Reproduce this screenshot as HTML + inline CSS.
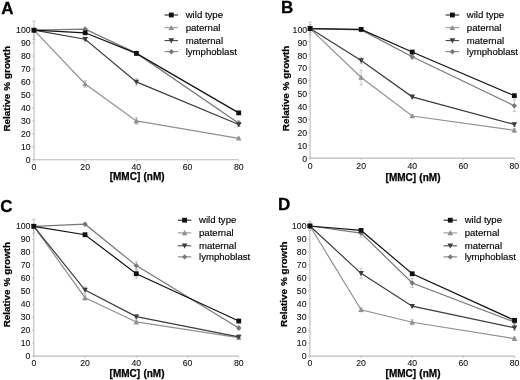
<!DOCTYPE html>
<html><head><meta charset="utf-8"><style>
html,body{margin:0;padding:0;background:#fff;width:520px;height:380px;overflow:hidden;-webkit-font-smoothing:antialiased}
svg{display:block;will-change:transform}
text{font-family:"Liberation Sans", sans-serif}
.L{font-size:17px;font-weight:bold;fill:#000;stroke:#000;stroke-width:0.3px}
.t{font-size:8.7px;fill:#111;stroke:#111;stroke-width:0.1px}
.ti{font-size:10px;font-weight:bold;fill:#000;stroke:#000;stroke-width:0.25px;word-spacing:0.5px}
.yt{font-size:9.9px;word-spacing:0.2px}
.lg{font-size:9.6px;fill:#000;stroke:#000;stroke-width:0.15px}
.ll{stroke-width:1;fill:none}
.ax{fill:none;stroke:#bbb;stroke-width:1.1}
.tk{fill:none;stroke:#bbb;stroke-width:0.8}
.eb{fill:none;stroke:#b4b4b4;stroke-width:0.8}
.ln{stroke-width:1.2;fill:none}
</style></head><body>
<svg width="520" height="380" viewBox="0 0 520 380">
<rect width="520" height="380" fill="#fff"/>
<g><text x="1.2" y="13.8" class="L">A</text>
<path d="M34 30.2V159.8H238.72" class="ax"/>
<text x="30.6" y="162.8" class="t" text-anchor="end">0</text>
<text x="30.6" y="149.84" class="t" text-anchor="end">10</text>
<text x="30.6" y="136.88" class="t" text-anchor="end">20</text>
<text x="30.6" y="123.92" class="t" text-anchor="end">30</text>
<text x="30.6" y="110.96" class="t" text-anchor="end">40</text>
<text x="30.6" y="98" class="t" text-anchor="end">50</text>
<text x="30.6" y="85.04" class="t" text-anchor="end">60</text>
<text x="30.6" y="72.08" class="t" text-anchor="end">70</text>
<text x="30.6" y="59.12" class="t" text-anchor="end">80</text>
<text x="30.6" y="46.16" class="t" text-anchor="end">90</text>
<text x="30.6" y="33.2" class="t" text-anchor="end">100</text>
<text x="34" y="170" class="t" text-anchor="middle">0</text>
<text x="85.18" y="170" class="t" text-anchor="middle">20</text>
<text x="136.36" y="170" class="t" text-anchor="middle">40</text>
<text x="187.54" y="170" class="t" text-anchor="middle">60</text>
<text x="238.72" y="170" class="t" text-anchor="middle">80</text>
<path d="M32 159.8H34M32 146.84H34M32 133.88H34M32 120.92H34M32 107.96H34M32 95H34M32 82.04H34M32 69.08H34M32 56.12H34M32 43.16H34M32 30.2H34M34 159.8V161.8M85.18 159.8V161.8M136.36 159.8V161.8M187.54 159.8V161.8M238.72 159.8V161.8" class="tk"/>
<text x="137.16" y="180.3" class="ti" text-anchor="middle">[MMC] (nM)</text>
<text transform="translate(10.3 88.8) rotate(-90)" class="ti yt" text-anchor="middle">Relative % growth</text>
<path d="M85.18 80.74V87.22M83.58 80.74H86.78M83.58 87.22H86.78M136.36 117.68V124.16M134.76 117.68H137.96M134.76 124.16H137.96M238.72 136.99V139.58M237.12 136.99H240.32M237.12 139.58H240.32M34 21.13V39.27M32.4 21.13H35.6M32.4 39.27H35.6M85.18 27.22V31.11M83.58 27.22H86.78M83.58 31.11H86.78M136.36 51.2V55.08M134.76 51.2H137.96M134.76 55.08H137.96M238.72 120.66V125.84M237.12 120.66H240.32M237.12 125.84H240.32M85.18 37.33V41.22M83.58 37.33H86.78M83.58 41.22H86.78M136.36 78.67V85.15M134.76 78.67H137.96M134.76 85.15H137.96M238.72 122.6V126.49M237.12 122.6H240.32M237.12 126.49H240.32M85.18 31.5V34.09M83.58 31.5H86.78M83.58 34.09H86.78M136.36 52.1V54.69M134.76 52.1H137.96M134.76 54.69H137.96M238.72 111.59V114.18M237.12 111.59H240.32M237.12 114.18H240.32" class="eb"/>
<polyline points="34,30.2 85.18,83.98 136.36,120.92 238.72,138.29" fill="none" stroke="#909090" class="ln"/>
<polyline points="34,30.2 85.18,29.16 136.36,53.14 238.72,123.25" fill="none" stroke="#777" class="ln"/>
<polyline points="34,30.2 85.18,39.27 136.36,81.91 238.72,124.55" fill="none" stroke="#3c3c3c" class="ln"/>
<polyline points="34,30.2 85.18,32.79 136.36,53.4 238.72,112.88" fill="none" stroke="#111" class="ln"/>
<polygon points="34,27.4 36.8,32.44 31.2,32.44" fill="#909090"/>
<polygon points="85.18,81.18 87.98,86.22 82.38,86.22" fill="#909090"/>
<polygon points="136.36,118.12 139.16,123.16 133.56,123.16" fill="#909090"/>
<polygon points="238.72,135.49 241.52,140.53 235.92,140.53" fill="#909090"/>
<polygon points="34,27.5 36.7,30.2 34,32.9 31.3,30.2" fill="#777"/>
<polygon points="85.18,26.46 87.88,29.16 85.18,31.86 82.48,29.16" fill="#777"/>
<polygon points="136.36,50.44 139.06,53.14 136.36,55.84 133.66,53.14" fill="#777"/>
<polygon points="238.72,120.55 241.42,123.25 238.72,125.95 236.02,123.25" fill="#777"/>
<polygon points="31.2,27.96 36.8,27.96 34,33" fill="#3c3c3c"/>
<polygon points="82.38,37.03 87.98,37.03 85.18,42.07" fill="#3c3c3c"/>
<polygon points="133.56,79.67 139.16,79.67 136.36,84.71" fill="#3c3c3c"/>
<polygon points="235.92,122.31 241.52,122.31 238.72,127.35" fill="#3c3c3c"/>
<rect x="31.6" y="27.8" width="4.8" height="4.8" fill="#111"/>
<rect x="82.78" y="30.39" width="4.8" height="4.8" fill="#111"/>
<rect x="133.96" y="51" width="4.8" height="4.8" fill="#111"/>
<rect x="236.32" y="110.48" width="4.8" height="4.8" fill="#111"/>
<path d="M164.5 15H178" stroke="#111" class="ll"/>
<rect x="168.9" y="12.6" width="4.8" height="4.8" fill="#111"/>
<text x="185.7" y="18.2" class="lg">wild type</text>
<path d="M164.5 27.7H178" stroke="#909090" class="ll"/>
<polygon points="171.3,24.9 174.1,29.94 168.5,29.94" fill="#909090"/>
<text x="185.7" y="30.9" class="lg">paternal</text>
<path d="M164.5 40.6H178" stroke="#3c3c3c" class="ll"/>
<polygon points="168.5,38.36 174.1,38.36 171.3,43.4" fill="#3c3c3c"/>
<text x="185.7" y="43.8" class="lg">maternal</text>
<path d="M164.5 51.7H178" stroke="#777" class="ll"/>
<polygon points="171.3,49 174,51.7 171.3,54.4 168.6,51.7" fill="#777"/>
<text x="185.7" y="54.9" class="lg">lymphoblast</text></g>
<g><text x="281" y="13.1" class="L">B</text>
<path d="M310.1 28.6V158.1H514.34" class="ax"/>
<text x="307.1" y="162.1" class="t" text-anchor="end">0</text>
<text x="307.1" y="149.15" class="t" text-anchor="end">10</text>
<text x="307.1" y="136.2" class="t" text-anchor="end">20</text>
<text x="307.1" y="123.25" class="t" text-anchor="end">30</text>
<text x="307.1" y="110.3" class="t" text-anchor="end">40</text>
<text x="307.1" y="97.35" class="t" text-anchor="end">50</text>
<text x="307.1" y="84.4" class="t" text-anchor="end">60</text>
<text x="307.1" y="71.45" class="t" text-anchor="end">70</text>
<text x="307.1" y="58.5" class="t" text-anchor="end">80</text>
<text x="307.1" y="45.55" class="t" text-anchor="end">90</text>
<text x="307.1" y="32.6" class="t" text-anchor="end">100</text>
<text x="310.1" y="169.2" class="t" text-anchor="middle">0</text>
<text x="361.16" y="169.2" class="t" text-anchor="middle">20</text>
<text x="412.22" y="169.2" class="t" text-anchor="middle">40</text>
<text x="463.28" y="169.2" class="t" text-anchor="middle">60</text>
<text x="514.34" y="169.2" class="t" text-anchor="middle">80</text>
<path d="M308.1 158.1H310.1M308.1 145.15H310.1M308.1 132.2H310.1M308.1 119.25H310.1M308.1 106.3H310.1M308.1 93.35H310.1M308.1 80.4H310.1M308.1 67.45H310.1M308.1 54.5H310.1M308.1 41.55H310.1M308.1 28.6H310.1M310.1 158.1V160.1M361.16 158.1V160.1M412.22 158.1V160.1M463.28 158.1V160.1M514.34 158.1V160.1" class="tk"/>
<text x="413.02" y="180.5" class="ti" text-anchor="middle">[MMC] (nM)</text>
<text transform="translate(288.6 88.5) rotate(-90)" class="ti yt" text-anchor="middle">Relative % growth</text>
<path d="M361.16 70.17V84.93M359.56 70.17H362.76M359.56 84.93H362.76M412.22 114.72V117.31M410.62 114.72H413.82M410.62 117.31H413.82M514.34 128.31V132.2M512.74 128.31H515.94M512.74 132.2H515.94M310.1 22.12V35.08M308.5 22.12H311.7M308.5 35.08H311.7M361.16 28.6V31.19M359.56 28.6H362.76M359.56 31.19H362.76M412.22 54.11V59.29M410.62 54.11H413.82M410.62 59.29H413.82M514.34 99.95V111.61M512.74 99.95H515.94M512.74 111.61H515.94M310.1 24.72V32.48M308.5 24.72H311.7M308.5 32.48H311.7M361.16 57.22V63.69M359.56 57.22H362.76M359.56 63.69H362.76M412.22 95.55V98.14M410.62 95.55H413.82M410.62 98.14H413.82M514.34 122.49V126.37M512.74 122.49H515.94M512.74 126.37H515.94M361.16 28.08V30.67M359.56 28.08H362.76M359.56 30.67H362.76M412.22 50.74V53.33M410.62 50.74H413.82M410.62 53.33H413.82M514.34 94.39V96.98M512.74 94.39H515.94M512.74 96.98H515.94" class="eb"/>
<polyline points="310.1,28.6 361.16,77.55 412.22,116.01 514.34,130.26" fill="none" stroke="#909090" class="ln"/>
<polyline points="310.1,28.6 361.16,29.9 412.22,56.7 514.34,105.78" fill="none" stroke="#777" class="ln"/>
<polyline points="310.1,28.6 361.16,60.46 412.22,96.85 514.34,124.43" fill="none" stroke="#3c3c3c" class="ln"/>
<polyline points="310.1,28.6 361.16,29.38 412.22,52.04 514.34,95.68" fill="none" stroke="#111" class="ln"/>
<polygon points="310.1,25.8 312.9,30.84 307.3,30.84" fill="#909090"/>
<polygon points="361.16,74.75 363.96,79.79 358.36,79.79" fill="#909090"/>
<polygon points="412.22,113.21 415.02,118.25 409.42,118.25" fill="#909090"/>
<polygon points="514.34,127.46 517.14,132.5 511.54,132.5" fill="#909090"/>
<polygon points="310.1,25.9 312.8,28.6 310.1,31.3 307.4,28.6" fill="#777"/>
<polygon points="361.16,27.2 363.86,29.9 361.16,32.6 358.46,29.9" fill="#777"/>
<polygon points="412.22,54 414.92,56.7 412.22,59.4 409.52,56.7" fill="#777"/>
<polygon points="514.34,103.08 517.04,105.78 514.34,108.48 511.64,105.78" fill="#777"/>
<polygon points="307.3,26.36 312.9,26.36 310.1,31.4" fill="#3c3c3c"/>
<polygon points="358.36,58.22 363.96,58.22 361.16,63.26" fill="#3c3c3c"/>
<polygon points="409.42,94.61 415.02,94.61 412.22,99.65" fill="#3c3c3c"/>
<polygon points="511.54,122.19 517.14,122.19 514.34,127.23" fill="#3c3c3c"/>
<rect x="307.7" y="26.2" width="4.8" height="4.8" fill="#111"/>
<rect x="358.76" y="26.98" width="4.8" height="4.8" fill="#111"/>
<rect x="409.82" y="49.64" width="4.8" height="4.8" fill="#111"/>
<rect x="511.94" y="93.28" width="4.8" height="4.8" fill="#111"/>
<path d="M445.6 15H459.1" stroke="#111" class="ll"/>
<rect x="450" y="12.6" width="4.8" height="4.8" fill="#111"/>
<text x="466.8" y="18.2" class="lg">wild type</text>
<path d="M445.6 27.7H459.1" stroke="#909090" class="ll"/>
<polygon points="452.4,24.9 455.2,29.94 449.6,29.94" fill="#909090"/>
<text x="466.8" y="30.9" class="lg">paternal</text>
<path d="M445.6 40.6H459.1" stroke="#3c3c3c" class="ll"/>
<polygon points="449.6,38.36 455.2,38.36 452.4,43.4" fill="#3c3c3c"/>
<text x="466.8" y="43.8" class="lg">maternal</text>
<path d="M445.6 51.7H459.1" stroke="#777" class="ll"/>
<polygon points="452.4,49 455.1,51.7 452.4,54.4 449.7,51.7" fill="#777"/>
<text x="466.8" y="54.9" class="lg">lymphoblast</text></g>
<g><text x="0.3" y="212.1" class="L">C</text>
<path d="M33.8 226.3V356.1H238.76" class="ax"/>
<text x="30.4" y="358.7" class="t" text-anchor="end">0</text>
<text x="30.4" y="345.72" class="t" text-anchor="end">10</text>
<text x="30.4" y="332.74" class="t" text-anchor="end">20</text>
<text x="30.4" y="319.76" class="t" text-anchor="end">30</text>
<text x="30.4" y="306.78" class="t" text-anchor="end">40</text>
<text x="30.4" y="293.8" class="t" text-anchor="end">50</text>
<text x="30.4" y="280.82" class="t" text-anchor="end">60</text>
<text x="30.4" y="267.84" class="t" text-anchor="end">70</text>
<text x="30.4" y="254.86" class="t" text-anchor="end">80</text>
<text x="30.4" y="241.88" class="t" text-anchor="end">90</text>
<text x="30.4" y="228.9" class="t" text-anchor="end">100</text>
<text x="33.8" y="366.3" class="t" text-anchor="middle">0</text>
<text x="85.04" y="366.3" class="t" text-anchor="middle">20</text>
<text x="136.28" y="366.3" class="t" text-anchor="middle">40</text>
<text x="187.52" y="366.3" class="t" text-anchor="middle">60</text>
<text x="238.76" y="366.3" class="t" text-anchor="middle">80</text>
<path d="M31.8 356.1H33.8M31.8 343.12H33.8M31.8 330.14H33.8M31.8 317.16H33.8M31.8 304.18H33.8M31.8 291.2H33.8M31.8 278.22H33.8M31.8 265.24H33.8M31.8 252.26H33.8M31.8 239.28H33.8M31.8 226.3H33.8M33.8 356.1V358.1M85.04 356.1V358.1M136.28 356.1V358.1M187.52 356.1V358.1M238.76 356.1V358.1" class="tk"/>
<text x="137.08" y="377.1" class="ti" text-anchor="middle">[MMC] (nM)</text>
<text transform="translate(9.9 284.6) rotate(-90)" class="ti yt" text-anchor="middle">Relative % growth</text>
<path d="M85.04 295.09V300.29M83.44 295.09H86.64M83.44 300.29H86.64M136.28 320.02V323.91M134.68 320.02H137.88M134.68 323.91H137.88M238.76 335.59V339.49M237.16 335.59H240.36M237.16 339.49H240.36M33.8 219.16V233.44M32.2 219.16H35.4M32.2 233.44H35.4M85.04 222.93V225.52M83.44 222.93H86.64M83.44 225.52H86.64M136.28 261.74V269.52M134.68 261.74H137.88M134.68 269.52H137.88M238.76 325.99V329.88M237.16 325.99H240.36M237.16 329.88H240.36M85.04 286.79V293.28M83.44 286.79H86.64M83.44 293.28H86.64M136.28 314.69V318.59M134.68 314.69H137.88M134.68 318.59H137.88M238.76 334.94V338.84M237.16 334.94H240.36M237.16 338.84H240.36M85.04 232.79V236.68M83.44 232.79H86.64M83.44 236.68H86.64M136.28 269.13V278.22M134.68 269.13H137.88M134.68 278.22H137.88M238.76 319.11V323M237.16 319.11H240.36M237.16 323H240.36" class="eb"/>
<polyline points="33.8,226.3 85.04,297.69 136.28,321.96 238.76,337.54" fill="none" stroke="#909090" class="ln"/>
<polyline points="33.8,226.3 85.04,224.22 136.28,265.63 238.76,327.93" fill="none" stroke="#777" class="ln"/>
<polyline points="33.8,226.3 85.04,290.03 136.28,316.64 238.76,336.89" fill="none" stroke="#3c3c3c" class="ln"/>
<polyline points="33.8,226.3 85.04,234.74 136.28,273.68 238.76,321.05" fill="none" stroke="#111" class="ln"/>
<polygon points="33.8,223.5 36.6,228.54 31,228.54" fill="#909090"/>
<polygon points="85.04,294.89 87.84,299.93 82.24,299.93" fill="#909090"/>
<polygon points="136.28,319.16 139.08,324.2 133.48,324.2" fill="#909090"/>
<polygon points="238.76,334.74 241.56,339.78 235.96,339.78" fill="#909090"/>
<polygon points="33.8,223.6 36.5,226.3 33.8,229 31.1,226.3" fill="#777"/>
<polygon points="85.04,221.52 87.74,224.22 85.04,226.92 82.34,224.22" fill="#777"/>
<polygon points="136.28,262.93 138.98,265.63 136.28,268.33 133.58,265.63" fill="#777"/>
<polygon points="238.76,325.23 241.46,327.93 238.76,330.63 236.06,327.93" fill="#777"/>
<polygon points="31,224.06 36.6,224.06 33.8,229.1" fill="#3c3c3c"/>
<polygon points="82.24,287.79 87.84,287.79 85.04,292.83" fill="#3c3c3c"/>
<polygon points="133.48,314.4 139.08,314.4 136.28,319.44" fill="#3c3c3c"/>
<polygon points="235.96,334.65 241.56,334.65 238.76,339.69" fill="#3c3c3c"/>
<rect x="31.4" y="223.9" width="4.8" height="4.8" fill="#111"/>
<rect x="82.64" y="232.34" width="4.8" height="4.8" fill="#111"/>
<rect x="133.88" y="271.28" width="4.8" height="4.8" fill="#111"/>
<rect x="236.36" y="318.65" width="4.8" height="4.8" fill="#111"/>
<path d="M177.8 220.2H191.3" stroke="#111" class="ll"/>
<rect x="182.2" y="217.8" width="4.8" height="4.8" fill="#111"/>
<text x="199" y="223.4" class="lg">wild type</text>
<path d="M177.8 232.9H191.3" stroke="#909090" class="ll"/>
<polygon points="184.6,230.1 187.4,235.14 181.8,235.14" fill="#909090"/>
<text x="199" y="236.1" class="lg">paternal</text>
<path d="M177.8 245.8H191.3" stroke="#3c3c3c" class="ll"/>
<polygon points="181.8,243.56 187.4,243.56 184.6,248.6" fill="#3c3c3c"/>
<text x="199" y="249" class="lg">maternal</text>
<path d="M177.8 256.9H191.3" stroke="#777" class="ll"/>
<polygon points="184.6,254.2 187.3,256.9 184.6,259.6 181.9,256.9" fill="#777"/>
<text x="199" y="260.1" class="lg">lymphoblast</text></g>
<g><text x="278" y="209.9" class="L">D</text>
<path d="M309.9 226V356.1H514.54" class="ax"/>
<text x="306.5" y="358.7" class="t" text-anchor="end">0</text>
<text x="306.5" y="345.69" class="t" text-anchor="end">10</text>
<text x="306.5" y="332.68" class="t" text-anchor="end">20</text>
<text x="306.5" y="319.67" class="t" text-anchor="end">30</text>
<text x="306.5" y="306.66" class="t" text-anchor="end">40</text>
<text x="306.5" y="293.65" class="t" text-anchor="end">50</text>
<text x="306.5" y="280.64" class="t" text-anchor="end">60</text>
<text x="306.5" y="267.63" class="t" text-anchor="end">70</text>
<text x="306.5" y="254.62" class="t" text-anchor="end">80</text>
<text x="306.5" y="241.61" class="t" text-anchor="end">90</text>
<text x="306.5" y="228.6" class="t" text-anchor="end">100</text>
<text x="309.9" y="366.3" class="t" text-anchor="middle">0</text>
<text x="361.06" y="366.3" class="t" text-anchor="middle">20</text>
<text x="412.22" y="366.3" class="t" text-anchor="middle">40</text>
<text x="463.38" y="366.3" class="t" text-anchor="middle">60</text>
<text x="514.54" y="366.3" class="t" text-anchor="middle">80</text>
<path d="M307.9 356.1H309.9M307.9 343.09H309.9M307.9 330.08H309.9M307.9 317.07H309.9M307.9 304.06H309.9M307.9 291.05H309.9M307.9 278.04H309.9M307.9 265.03H309.9M307.9 252.02H309.9M307.9 239.01H309.9M307.9 226H309.9M309.9 356.1V358.1M361.06 356.1V358.1M412.22 356.1V358.1M463.38 356.1V358.1M514.54 356.1V358.1" class="tk"/>
<text x="413.02" y="376.8" class="ti" text-anchor="middle">[MMC] (nM)</text>
<text transform="translate(287.4 284.2) rotate(-90)" class="ti yt" text-anchor="middle">Relative % growth</text>
<path d="M361.06 307.83V311.74M359.46 307.83H362.66M359.46 311.74H362.66M412.22 319.67V324.88M410.62 319.67H413.82M410.62 324.88H413.82M514.54 336.72V340.62M512.94 336.72H516.14M512.94 340.62H516.14M309.9 221.45V230.55M308.3 221.45H311.5M308.3 230.55H311.5M361.06 229.25V237.06M359.46 229.25H362.66M359.46 237.06H362.66M412.22 278.56V287.41M410.62 278.56H413.82M410.62 287.41H413.82M514.54 320.06V323.97M512.94 320.06H516.14M512.94 323.97H516.14M361.06 268.15V278.56M359.46 268.15H362.66M359.46 278.56H362.66M412.22 304.84V307.44M410.62 304.84H413.82M410.62 307.44H413.82M514.54 325.14V330.34M512.94 325.14H516.14M512.94 330.34H516.14M361.06 228.47V232.37M359.46 228.47H362.66M359.46 232.37H362.66M412.22 272.45V275.05M410.62 272.45H413.82M410.62 275.05H413.82M514.54 319.02V321.62M512.94 319.02H516.14M512.94 321.62H516.14" class="eb"/>
<polyline points="309.9,226 361.06,309.78 412.22,322.27 514.54,338.67" fill="none" stroke="#909090" class="ln"/>
<polyline points="309.9,226 361.06,233.16 412.22,282.98 514.54,322.01" fill="none" stroke="#777" class="ln"/>
<polyline points="309.9,226 361.06,273.36 412.22,306.14 514.54,327.74" fill="none" stroke="#3c3c3c" class="ln"/>
<polyline points="309.9,226 361.06,230.42 412.22,273.75 514.54,320.32" fill="none" stroke="#111" class="ln"/>
<polygon points="309.9,223.2 312.7,228.24 307.1,228.24" fill="#909090"/>
<polygon points="361.06,306.98 363.86,312.02 358.26,312.02" fill="#909090"/>
<polygon points="412.22,319.47 415.02,324.51 409.42,324.51" fill="#909090"/>
<polygon points="514.54,335.87 517.34,340.91 511.74,340.91" fill="#909090"/>
<polygon points="309.9,223.3 312.6,226 309.9,228.7 307.2,226" fill="#777"/>
<polygon points="361.06,230.46 363.76,233.16 361.06,235.86 358.36,233.16" fill="#777"/>
<polygon points="412.22,280.28 414.92,282.98 412.22,285.68 409.52,282.98" fill="#777"/>
<polygon points="514.54,319.31 517.24,322.01 514.54,324.71 511.84,322.01" fill="#777"/>
<polygon points="307.1,223.76 312.7,223.76 309.9,228.8" fill="#3c3c3c"/>
<polygon points="358.26,271.12 363.86,271.12 361.06,276.16" fill="#3c3c3c"/>
<polygon points="409.42,303.9 415.02,303.9 412.22,308.94" fill="#3c3c3c"/>
<polygon points="511.74,325.5 517.34,325.5 514.54,330.54" fill="#3c3c3c"/>
<rect x="307.5" y="223.6" width="4.8" height="4.8" fill="#111"/>
<rect x="358.66" y="228.02" width="4.8" height="4.8" fill="#111"/>
<rect x="409.82" y="271.35" width="4.8" height="4.8" fill="#111"/>
<rect x="512.14" y="317.92" width="4.8" height="4.8" fill="#111"/>
<path d="M443.5 220.2H457" stroke="#111" class="ll"/>
<rect x="447.9" y="217.8" width="4.8" height="4.8" fill="#111"/>
<text x="464.7" y="223.4" class="lg">wild type</text>
<path d="M443.5 232.9H457" stroke="#909090" class="ll"/>
<polygon points="450.3,230.1 453.1,235.14 447.5,235.14" fill="#909090"/>
<text x="464.7" y="236.1" class="lg">paternal</text>
<path d="M443.5 245.8H457" stroke="#3c3c3c" class="ll"/>
<polygon points="447.5,243.56 453.1,243.56 450.3,248.6" fill="#3c3c3c"/>
<text x="464.7" y="249" class="lg">maternal</text>
<path d="M443.5 256.9H457" stroke="#777" class="ll"/>
<polygon points="450.3,254.2 453,256.9 450.3,259.6 447.6,256.9" fill="#777"/>
<text x="464.7" y="260.1" class="lg">lymphoblast</text></g>
</svg>
</body></html>
